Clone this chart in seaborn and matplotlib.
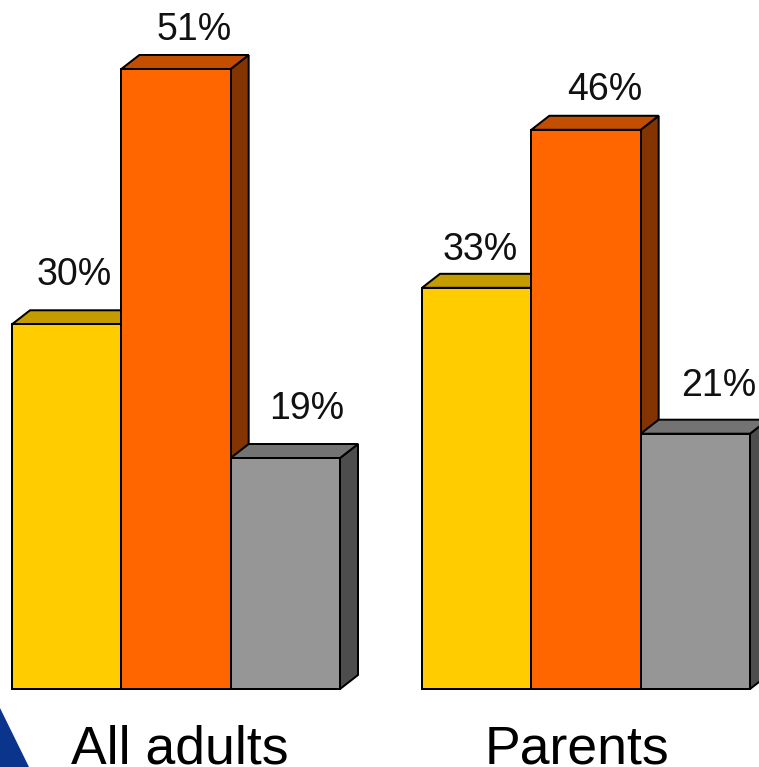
import pandas as pd
import seaborn as sb
from matplotlib import pyplot as plt
from matplotlib.patches import Polygon

# chart data
GROUPS = ["All adults", "Parents"]
SERIES = ["First", "Second", "Third"]
FIRST = [30, 33]
SECOND = [51, 46]
THIRD = [19, 21]

# styling
FRONT_COLORS = ["#FFCC00", "#FF6600", "#969696"]
TOP_COLORS = ["#C49C00", "#C44E00", "#737373"]
SIDE_COLORS = ["#C49C00", "#833400", "#4D4D4D"]
DPI = 100
PX = 72 / DPI
EDGE = 2 * PX
DEPTH_X = 18 / 410     # 3d depth, data units
DEPTH_Y = 14 / 12.157

# label offsets from the top centre of each bar, in pixels (series, group)
LABEL_OFFSETS = [[(8, 49), (4, 38)], [(18, 39), (19, 40)], [(21, 49), (23, 48)]]
GROUP_OFFSETS = [(4, -74), (-9, -74)]

df = pd.DataFrame({
    "group": GROUPS * 3,
    "series": [s for s in SERIES for _ in GROUPS],
    "value": FIRST + SECOND + THIRD,
})

sb.set_style("white")
plt.rcParams["font.family"] = ["Liberation Sans", "DejaVu Sans"]

fig = plt.figure(figsize=(7.59, 7.67), dpi=DPI)
ax = fig.add_axes([0, 0, 1, 1])
sb.barplot(data=df, x="group", y="value", hue="series", palette=FRONT_COLORS,
           width=0.8, gap=0, edgecolor="black", linewidth=EDGE, legend=False,
           saturation=1, ax=ax)

ax.set_xlim(-176 / 410, 583 / 410)
ax.set_ylim(-78 / 12.157, 689 / 12.157)
ax.set_axis_off()

# fake 3d: top and side faces on every bar, later series in front
for i, container in enumerate(ax.containers):
    for j, bar in enumerate(container):
        x0, x1 = bar.get_x(), bar.get_x() + bar.get_width()
        h = bar.get_height()
        bar.set_zorder(3 * i + 3)
        top = Polygon([(x0, h), (x0 + DEPTH_X, h + DEPTH_Y), (x1 + DEPTH_X, h + DEPTH_Y), (x1, h)],
                      closed=True, facecolor=TOP_COLORS[i], edgecolor="black", linewidth=EDGE, zorder=3 * i + 2)
        side = Polygon([(x1, 0), (x1 + DEPTH_X, DEPTH_Y), (x1 + DEPTH_X, h + DEPTH_Y), (x1, h)],
                       closed=True, facecolor=SIDE_COLORS[i], edgecolor="black", linewidth=EDGE, zorder=3 * i + 2)
        ax.add_patch(side)
        ax.add_patch(top)
        dx, dy = LABEL_OFFSETS[i][j]
        ax.annotate("{}%".format(int(h)), ((x0 + x1) / 2, h), xytext=(dx * PX, dy * PX),
                    textcoords="offset points", ha="center", va="center", fontsize=27, color="#111111", zorder=30)

for j, name in enumerate(GROUPS):
    dx, dy = GROUP_OFFSETS[j]
    ax.annotate(name, (j, 0), xytext=(dx * PX, dy * PX), textcoords="offset points",
                ha="center", va="baseline", fontsize=38.5, color="black", zorder=30)

# corner of the logo at the bottom left
ax.add_patch(Polygon([(0, 1 - 708 / 767), (0, 0), (29 / 759, 0)], closed=True, transform=ax.transAxes,
                     facecolor="#0B358C", edgecolor="none", zorder=1))

fig.savefig("out.png", dpi=DPI)
